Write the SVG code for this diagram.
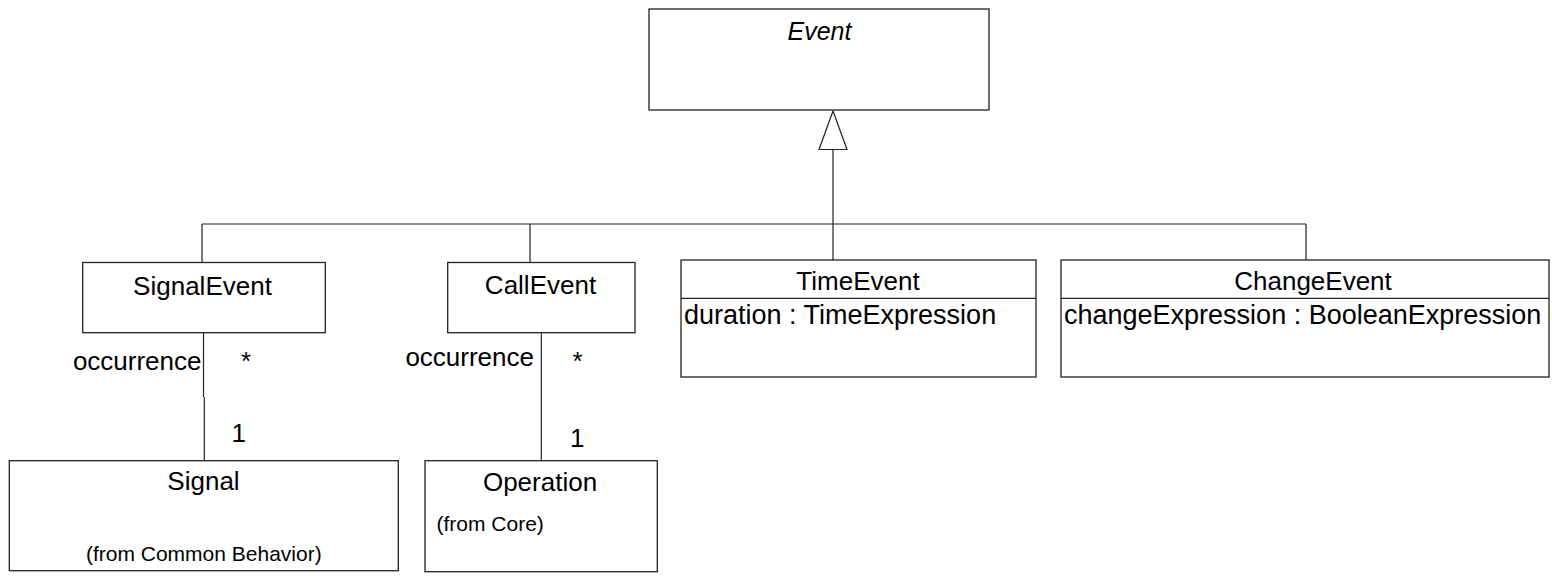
<svg xmlns="http://www.w3.org/2000/svg" width="1552" height="576" viewBox="0 0 1552 576">
<style>
.box{fill:#fff;stroke:#222;stroke-width:1.3}
.ln{fill:none;stroke:#222;stroke-width:1.2}
text{font-family:"Liberation Sans",Arial,sans-serif;fill:#000}
.t{font-size:26px}
.a{font-size:27px}
.c{text-anchor:middle}
.s{font-size:21px}
.i{font-style:italic;font-size:25px}
</style>
<rect width="1552" height="576" fill="#fff"/>
<g id="connectors">
<path class="ln" d="M833,149 V262.5 M202,224 H1306 M202,224 V262.5 M530,224 V262.5 M1306,224 V260"/>
<polygon class="ln" points="833,111 819,149.5 847,149.5" fill="#fff"/>
<path class="ln" d="M203.5,332.7 V397 M204.3,397 V460.7"/>
<path class="ln" d="M541.3,332.7 V460.7"/>
<text class="t" x="201.5" y="370" text-anchor="end">occurrence</text>
<text class="t" x="241" y="370">*</text>
<text class="t" x="231.5" y="442">1</text>
<text class="t" x="534" y="366" text-anchor="end">occurrence</text>
<text class="t" x="572.5" y="370">*</text>
<text class="t" x="570" y="447">1</text>
</g>
<g id="Event">
<rect class="box" x="649" y="9" width="340" height="101"/>
<text class="i c" x="819.5" y="40">Event</text>
</g>
<g id="SignalEvent">
<rect class="box" x="82.7" y="262.5" width="242.6" height="70.2"/>
<text class="t c" x="202.5" y="295">SignalEvent</text>
</g>
<g id="CallEvent">
<rect class="box" x="447.7" y="262.5" width="187.3" height="70.2"/>
<text class="t c" x="540.5" y="293.5">CallEvent</text>
</g>
<g id="TimeEvent">
<rect class="box" x="681" y="260" width="355" height="117"/>
<line class="ln" x1="681" y1="298.3" x2="1036" y2="298.3"/>
<text class="t c" x="858" y="290">TimeEvent</text>
<text class="a" x="684" y="323.5">duration : TimeExpression</text>
</g>
<g id="ChangeEvent">
<rect class="box" x="1061" y="260" width="488" height="117"/>
<line class="ln" x1="1061" y1="298.3" x2="1549" y2="298.3"/>
<text class="t c" x="1313" y="290">ChangeEvent</text>
<text class="a" x="1064" y="323.5">changeExpression : BooleanExpression</text>
</g>
<g id="Signal">
<rect class="box" x="9.3" y="460.7" width="389" height="110"/>
<text class="t c" x="203.5" y="490">Signal</text>
<text class="s c" x="203.8" y="561">(from Common Behavior)</text>
</g>
<g id="Operation">
<rect class="box" x="425" y="460.7" width="232.3" height="111"/>
<text class="t c" x="540" y="490.5">Operation</text>
<text class="s" x="436.5" y="531">(from Core)</text>
</g>
</svg>
